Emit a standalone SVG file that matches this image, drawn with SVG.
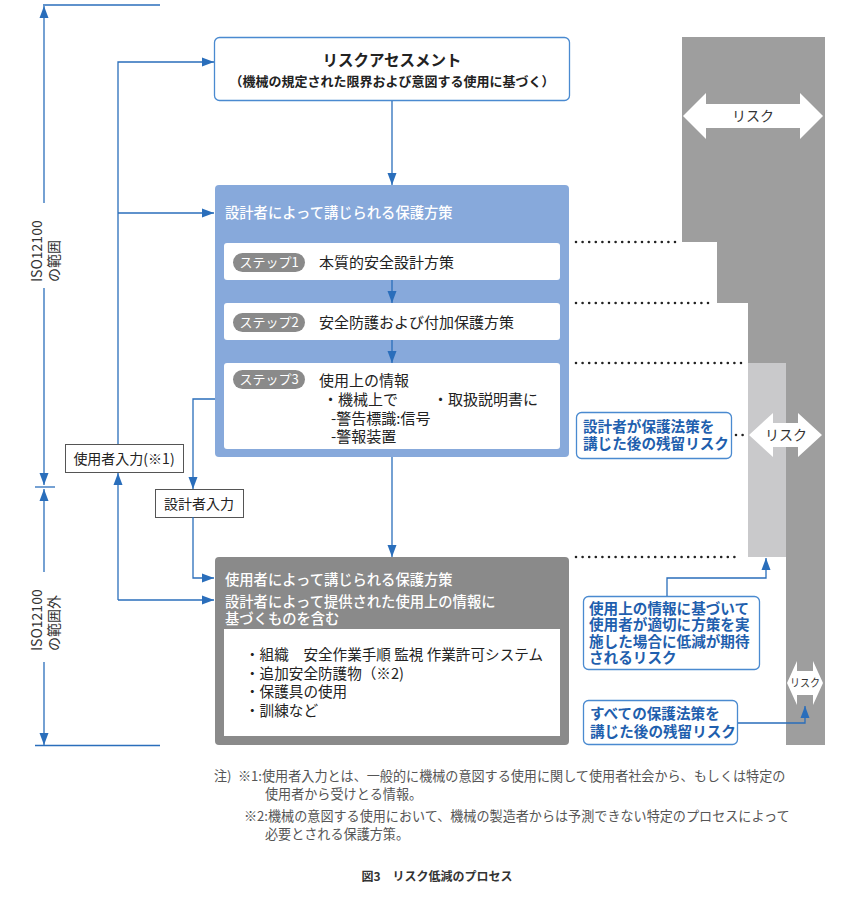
<svg xmlns="http://www.w3.org/2000/svg" width="850" height="910" viewBox="0 0 850 910">
<style>
text{font-family:"Noto Sans CJK JP","Noto Sans",sans-serif}
.ln{fill:none;stroke:#2a6ebb;stroke-width:1.3}
.arr{marker-end:url(#ah)}
.dot{fill:none;stroke:#222;stroke-width:2.6;stroke-linecap:round;stroke-dasharray:0 6.6}
.wt{fill:#fff;font-size:14.3px;font-weight:500}
.bk{fill:#222;font-size:15px}
.bl{fill:#222;font-size:14.6px}
.pill{fill:#8a8a8a}
.pt{fill:#fff;font-size:13px}
.cb{fill:#fff;stroke:#4a8ad0;stroke-width:1.3}
.ct{fill:#1f5fae;font-size:14.6px;font-weight:bold}
.ib{fill:#fff;stroke:#555;stroke-width:1}
.it{fill:#222;font-size:14px;text-anchor:middle}
.iso{fill:#333;font-size:14px}
.fn{fill:#555;font-size:13.1px}
.rk{fill:#333;font-size:14px;text-anchor:middle}
</style>
<defs>
<marker id="ah" viewBox="0 0 12 10" refX="12" refY="5" markerWidth="12" markerHeight="10" markerUnits="userSpaceOnUse" orient="auto">
<path d="M0,0.5 L12,5 L0,9.5z" fill="#2a6ebb"/>
</marker>
</defs>

<!-- risk column -->
<g id="risk-column">
<path d="M682,37 H825 V745 H786 V363 H748 V303 H717 V242 H682z" fill="#9e9e9e"/>
<rect x="748" y="363" width="38" height="194" fill="#c9c9cb"/>
<polygon points="683,116 706,93 706,104 800,104 800,93 823,116 800,139 800,128 706,128 706,139" fill="#fff"/>
<text class="rk" x="753" y="121">リスク</text>
<polygon points="749,435 773,413 773,423 798,423 798,413 822,435 798,457 798,447 773,447 773,457" fill="#fff"/>
<text class="rk" x="786" y="440">リスク</text>
<polygon points="787,683 797,661 797,671 813,671 813,661 823,683 813,705 813,695 797,695 797,705" fill="#fff"/>
<text x="805" y="687" font-size="11" text-anchor="middle" fill="#333" textLength="30" lengthAdjust="spacingAndGlyphs">リスク</text>
</g>

<!-- dotted lines -->
<g id="dots">
<path class="dot" d="M576,242 H677"/>
<path class="dot" d="M576,303 H708"/>
<path class="dot" d="M576,363 H743"/>
<path class="dot" d="M576,557 H737"/>
<path class="dot" d="M736,435 H744"/>
</g>

<g id="risk-assessment">
<rect x="214.5" y="37.5" width="355" height="63" rx="5" class="cb"/>
<text x="392" y="66" font-size="15.5" font-weight="bold" fill="#222" text-anchor="middle">リスクアセスメント</text>
<text x="392" y="86" font-size="13" font-weight="bold" fill="#222" text-anchor="middle">（機械の規定された限界および意図する使用に基づく）</text>
</g>

<g id="designer-measures">
<rect x="215" y="185" width="354" height="272" rx="4" fill="#87a9db"/>
<text class="wt" x="225" y="218">設計者によって講じられる保護方策</text>
</g>

<g id="step1">
<rect x="224" y="243" width="336" height="37" rx="3" fill="#fff"/>
<rect class="pill" x="233" y="253" width="72" height="19" rx="9.5"/>
<text class="pt" x="269" y="267" text-anchor="middle">ステップ1</text>
<text class="bk" x="319" y="268">本質的安全設計方策</text>
</g>

<g id="step2">
<rect x="224" y="303" width="336" height="37" rx="3" fill="#fff"/>
<rect class="pill" x="233" y="313" width="72" height="19" rx="9.5"/>
<text class="pt" x="269" y="327" text-anchor="middle">ステップ2</text>
<text class="bk" x="319" y="328">安全防護および付加保護方策</text>
</g>

<g id="step3">
<rect x="224" y="363" width="336" height="86" rx="3" fill="#fff"/>
<rect class="pill" x="233" y="370" width="72" height="19" rx="9.5"/>
<text class="pt" x="269" y="384" text-anchor="middle">ステップ3</text>
<text class="bk" x="319" y="386">使用上の情報</text>
<text class="bk" x="323" y="405">・機械上で</text>
<text class="bk" x="433" y="405">・取扱説明書に</text>
<text class="bk" x="331" y="424">-警告標識:信号</text>
<text class="bk" x="331" y="442">-警報装置</text>
</g>

<g id="user-measures">
<rect x="215" y="557" width="354" height="188" rx="4" fill="#8a8a8a"/>
<text class="wt" x="225" y="585">使用者によって講じられる保護方策</text>
<text class="wt" x="225" y="607">設計者によって提供された使用上の情報に</text>
<text class="wt" x="225" y="624">基づくものを含む</text>
<rect x="224" y="629" width="336" height="107" fill="#fff"/>
<text class="bl" x="245" y="660">・組織　安全作業手順 監視 作業許可システム</text>
<text class="bl" x="245" y="679">・追加安全防護物（※2)</text>
<text class="bl" x="245" y="697">・保護具の使用</text>
<text class="bl" x="245" y="716">・訓練など</text>
</g>

<g id="user-input">
<rect class="ib" x="65.5" y="444.5" width="118" height="28"/>
<text class="it" x="124" y="464">使用者入力(※1)</text>
</g>

<g id="designer-input">
<rect class="ib" x="155.5" y="489.5" width="88" height="28"/>
<text class="it" x="199" y="509">設計者入力</text>
</g>

<g id="callout-designer-residual">
<rect class="cb" x="576.5" y="412.5" width="155" height="46" rx="5"/>
<text class="ct" x="583" y="432">設計者が保護法策を</text>
<text class="ct" x="583" y="449">講じた後の残留リスク</text>
</g>

<g id="callout-user-expected">
<rect class="cb" x="583.5" y="596.5" width="176" height="73" rx="5"/>
<text class="ct" x="589" y="614">使用上の情報に基づいて</text>
<text class="ct" x="589" y="630">使用者が適切に方策を実</text>
<text class="ct" x="589" y="647">施した場合に低減が期待</text>
<text class="ct" x="589" y="663">されるリスク</text>
</g>

<g id="callout-final-residual">
<rect class="cb" x="583.5" y="700.5" width="154" height="44" rx="5"/>
<text class="ct" x="590" y="719">すべての保護法策を</text>
<text class="ct" x="590" y="737">講じた後の残留リスク</text>
</g>

<g id="scope-labels">
<text class="iso" transform="translate(42,282) rotate(-90)">ISO12100</text>
<text class="iso" transform="translate(59,282) rotate(-90)">の範囲</text>
<text class="iso" transform="translate(42,651) rotate(-90)">ISO12100</text>
<text class="iso" transform="translate(59,651) rotate(-90)">の範囲外</text>
</g>

<g id="connectors">
<path class="ln arr" d="M392,101 V185"/>
<path class="ln arr" d="M392,280 V303"/>
<path class="ln arr" d="M392,340 V363"/>
<path class="ln arr" d="M392,457 V557"/>
<path class="ln arr" d="M118,444 V62 H214"/>
<path class="ln arr" d="M118,213 H214"/>
<path class="ln arr" d="M118,600 V473"/>
<path class="ln arr" d="M118,600 H214"/>
<path class="ln arr" d="M215,399 H193 V489"/>
<path class="ln arr" d="M193,517 V578 H214"/>
<path class="ln arr" d="M667,596 V578 H766 V558"/>
<path class="ln arr" d="M738,723 H805 V706"/>
<path class="ln arr" d="M44,203 V6"/>
<path class="ln arr" d="M44,288 V485"/>
<path class="ln arr" d="M44,572 V489"/>
<path class="ln arr" d="M44,662 V745"/>
<path class="ln" d="M35,487 H55"/>
<path class="ln" d="M43,5 H160"/>
<path class="ln" d="M35,745.5 H160"/>
</g>

<g id="notes">
<text class="fn" x="214" y="781">注)</text>
<text class="fn" x="238" y="781">※1:使用者入力とは、一般的に機械の意図する使用に関して使用者社会から、もしくは特定の</text>
<text class="fn" x="265" y="799">使用者から受けとる情報。</text>
<text class="fn" x="244" y="821">※2:機械の意図する使用において、機械の製造者からは予測できない特定のプロセスによって</text>
<text class="fn" x="265" y="839">必要とされる保護方策。</text>
<text x="437" y="881" font-size="12" font-weight="bold" fill="#333" text-anchor="middle">図3　リスク低減のプロセス</text>
</g>
</svg>
